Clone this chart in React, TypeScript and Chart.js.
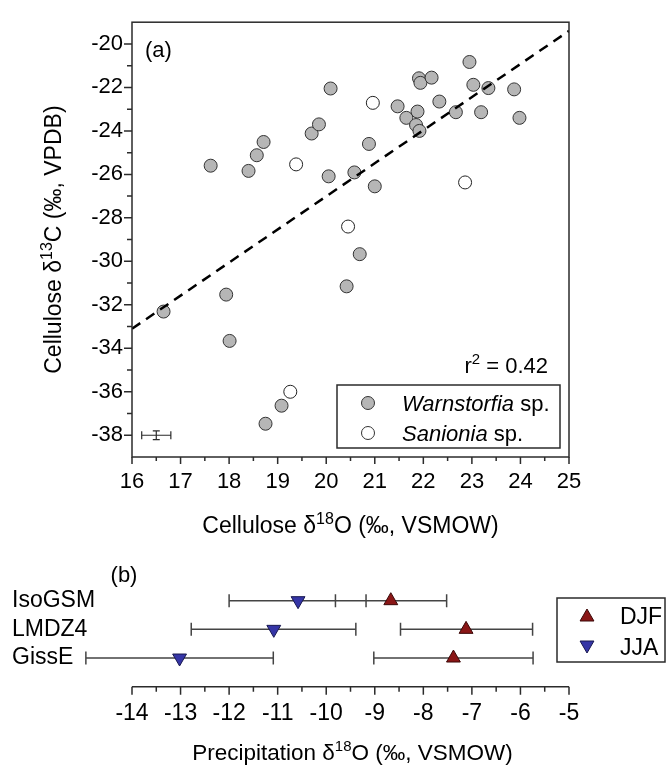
import React, { useEffect, useRef } from 'react';
import { Chart, registerables } from 'chart.js';

Chart.register(...registerables);

const FONT = '"Liberation Sans", Arial, Helvetica, sans-serif';
const AXIS = '#2b2b2b';

// ---------- Panel (a): cellulose d18O vs d13C ----------
const warnX = [17.62, 18.40, 18.57, 18.71, 19.70, 19.85, 20.09, 20.05, 17.94, 21.47, 21.65, 21.88, 21.85, 21.92, 21.91, 21.94, 22.17, 22.33, 22.67, 22.95, 23.03, 23.34, 23.19, 23.87, 23.98, 20.88, 20.58, 21.00, 20.69, 20.42, 16.65, 18.01, 19.08, 18.75];
const warnY = [-25.60, -25.84, -25.12, -24.51, -24.12, -23.70, -22.05, -26.09, -31.53, -22.87, -23.40, -23.11, -23.73, -24.00, -21.58, -21.79, -21.55, -22.65, -23.14, -20.83, -21.88, -22.03, -23.14, -22.09, -23.40, -24.60, -25.91, -26.55, -29.67, -31.15, -32.31, -33.66, -36.64, -37.47];
const sanX = [19.38, 20.96, 22.86, 20.45, 19.26];
const sanY = [-25.54, -22.71, -26.37, -28.40, -36.00];
const fitX = [16, 25];
const fitY = [-33.1, -19.4];
const xTicksA = [16, 17, 18, 19, 20, 21, 22, 23, 24, 25];
const xMinorA = [16.5, 17.5, 18.5, 19.5, 20.5, 21.5, 22.5, 23.5, 24.5];
const yTicksA = [-38, -36, -34, -32, -30, -28, -26, -24, -22, -20];
const yMinorA = [-37, -35, -33, -31, -29, -27, -25, -23, -21];
const errX = 16.5;
const errY = -38;
const errHalfX = 0.3;
const errHalfY = 0.2;
const r2Value = '0.42';

// ---------- Panel (b): precipitation d18O by model ----------
const models = ['IsoGSM', 'LMDZ4', 'GissE'];
const djfMean = [-8.67, -7.12, -7.38];
const djfLow = [-9.81, -8.47, -9.02];
const djfHigh = [-7.52, -5.75, -5.74];
const jjaMean = [-10.58, -11.08, -13.02];
const jjaLow = [-12.0, -12.78, -14.95];
const jjaHigh = [-9.18, -9.39, -11.09];
const xTicksB = [-14, -13, -12, -11, -10, -9, -8, -7, -6, -5];
const xMinorB = [-13.5, -12.5, -11.5, -10.5, -9.5, -8.5, -7.5, -6.5, -5.5];

const DJF_FILL = '#8a1616';
const DJF_EDGE = '#3a0808';
const JJA_FILL = '#3535a6';
const JJA_EDGE = '#181850';

type Part = { t: string; sup?: boolean; italic?: boolean };

function richWidth(ctx: CanvasRenderingContext2D, parts: Part[], size: number) {
  let w = 0;
  for (const p of parts) {
    ctx.font = `${p.italic ? 'italic ' : ''}${p.sup ? Math.round(size * 0.68) : size}px ${FONT}`;
    w += ctx.measureText(p.t).width;
  }
  return w;
}

function drawRich(ctx: CanvasRenderingContext2D, parts: Part[], x: number, y: number, size: number, align: 'left' | 'center' | 'right') {
  const total = richWidth(ctx, parts, size);
  let cx = align === 'left' ? x : align === 'center' ? x - total / 2 : x - total;
  ctx.textAlign = 'left';
  ctx.textBaseline = 'alphabetic';
  ctx.fillStyle = '#000';
  for (const p of parts) {
    ctx.font = `${p.italic ? 'italic ' : ''}${p.sup ? Math.round(size * 0.68) : size}px ${FONT}`;
    ctx.fillText(p.t, cx, p.sup ? y - size * 0.4 : y);
    cx += ctx.measureText(p.t).width;
  }
}

function triangle(ctx: CanvasRenderingContext2D, x: number, y: number, r: number, down: boolean, fill: string, edge: string) {
  const s = down ? -1 : 1;
  ctx.beginPath();
  ctx.moveTo(x, y - s * r);
  ctx.lineTo(x + r * Math.sin((2 * Math.PI) / 3), y + s * r / 2);
  ctx.lineTo(x - r * Math.sin((2 * Math.PI) / 3), y + s * r / 2);
  ctx.closePath();
  ctx.fillStyle = fill;
  ctx.fill();
  ctx.strokeStyle = edge;
  ctx.lineWidth = 1;
  ctx.stroke();
}

const panelAPlugin = {
  id: 'panelADecor',
  afterDraw(chart: any) {
    const { ctx, chartArea: a, scales } = chart;
    const xs = scales.x;
    const ys = scales.y;
    ctx.save();
    // frame
    ctx.strokeStyle = AXIS;
    ctx.lineWidth = 1.5;
    ctx.strokeRect(a.left, a.top, a.right - a.left, a.bottom - a.top);
    // ticks
    ctx.beginPath();
    for (const v of xTicksA) {
      const p = xs.getPixelForValue(v);
      ctx.moveTo(p, a.bottom);
      ctx.lineTo(p, a.bottom + 7);
    }
    for (const v of xMinorA) {
      const p = xs.getPixelForValue(v);
      ctx.moveTo(p, a.bottom);
      ctx.lineTo(p, a.bottom + 4);
    }
    for (const v of yTicksA) {
      const p = ys.getPixelForValue(v);
      ctx.moveTo(a.left, p);
      ctx.lineTo(a.left - 8, p);
    }
    for (const v of yMinorA) {
      const p = ys.getPixelForValue(v);
      ctx.moveTo(a.left, p);
      ctx.lineTo(a.left - 5, p);
    }
    ctx.stroke();

    // analytical error bar
    const ex = xs.getPixelForValue(errX);
    const ey = ys.getPixelForValue(errY);
    const ex0 = xs.getPixelForValue(errX - errHalfX);
    const ex1 = xs.getPixelForValue(errX + errHalfX);
    const ey0 = ys.getPixelForValue(errY - errHalfY);
    const ey1 = ys.getPixelForValue(errY + errHalfY);
    ctx.lineWidth = 1.2;
    ctx.beginPath();
    ctx.moveTo(ex0, ey); ctx.lineTo(ex1, ey);
    ctx.moveTo(ex0, ey - 4); ctx.lineTo(ex0, ey + 4);
    ctx.moveTo(ex1, ey - 4); ctx.lineTo(ex1, ey + 4);
    ctx.moveTo(ex, ey0); ctx.lineTo(ex, ey1);
    ctx.moveTo(ex - 3.5, ey0); ctx.lineTo(ex + 3.5, ey0);
    ctx.moveTo(ex - 3.5, ey1); ctx.lineTo(ex + 3.5, ey1);
    ctx.stroke();

    // panel label
    ctx.fillStyle = '#000';
    ctx.font = `22px ${FONT}`;
    ctx.textAlign = 'left';
    ctx.textBaseline = 'alphabetic';
    ctx.fillText('(a)', a.left + 13, a.top + 35);

    // r2
    drawRich(ctx, [{ t: 'r' }, { t: '2', sup: true }, { t: ' = ' + r2Value }], a.right - 21, 373, 22, 'right');

    // legend
    const lx0 = 337, lx1 = 560, ly0 = 385, ly1 = 448;
    ctx.strokeStyle = AXIS;
    ctx.lineWidth = 1.5;
    ctx.strokeRect(lx0, ly0, lx1 - lx0, ly1 - ly0);
    const rows: { fill: string; name: string; y: number }[] = [
      { fill: '#b6b6b6', name: 'Warnstorfia', y: 403 },
      { fill: '#ffffff', name: 'Sanionia', y: 433 },
    ];
    for (const r of rows) {
      ctx.beginPath();
      ctx.arc(368, r.y, 6.5, 0, Math.PI * 2);
      ctx.fillStyle = r.fill;
      ctx.fill();
      ctx.strokeStyle = '#333';
      ctx.lineWidth = 1;
      ctx.stroke();
      drawRich(ctx, [{ t: r.name, italic: true }, { t: ' sp.' }], 402, r.y + 8, 22, 'left');
    }

    // axis titles
    const cxT = (a.left + a.right) / 2;
    drawRich(ctx, [{ t: 'Cellulose \u03b4' }, { t: '18', sup: true }, { t: 'O (\u2030, VSMOW)' }], cxT, 533, 23, 'center');
    ctx.save();
    ctx.translate(61, (a.top + a.bottom) / 2);
    ctx.rotate(-Math.PI / 2);
    drawRich(ctx, [{ t: 'Cellulose \u03b4' }, { t: '13', sup: true }, { t: 'C (\u2030, VPDB)' }], 0, 0, 23, 'center');
    ctx.restore();
    ctx.restore();
  },
};

const panelBPlugin = {
  id: 'panelBDecor',
  beforeDatasetsDraw(chart: any) {
    const { ctx, scales } = chart;
    const xs = scales.x;
    const ys = scales.y;
    ctx.save();
    ctx.strokeStyle = '#444';
    ctx.lineWidth = 1.5;
    models.forEach((_, i) => {
      const y = ys.getPixelForValue(models.length - i);
      const bars = [
        [jjaLow[i], jjaHigh[i]],
        [djfLow[i], djfHigh[i]],
      ];
      ctx.beginPath();
      for (const [lo, hi] of bars) {
        const p0 = xs.getPixelForValue(lo);
        const p1 = xs.getPixelForValue(hi);
        ctx.moveTo(p0, y); ctx.lineTo(p1, y);
        ctx.moveTo(p0, y - 6.5); ctx.lineTo(p0, y + 6.5);
        ctx.moveTo(p1, y - 6.5); ctx.lineTo(p1, y + 6.5);
      }
      ctx.stroke();
    });
    ctx.restore();
  },
  afterDraw(chart: any) {
    const { ctx, chartArea: a, scales } = chart;
    const xs = scales.x;
    ctx.save();
    ctx.strokeStyle = AXIS;
    ctx.lineWidth = 1.5;
    ctx.beginPath();
    ctx.moveTo(a.left, a.bottom);
    ctx.lineTo(a.right, a.bottom);
    for (const v of xTicksB) {
      const p = xs.getPixelForValue(v);
      ctx.moveTo(p, a.bottom);
      ctx.lineTo(p, a.bottom + 8);
    }
    for (const v of xMinorB) {
      const p = xs.getPixelForValue(v);
      ctx.moveTo(p, a.bottom);
      ctx.lineTo(p, a.bottom + 5);
    }
    ctx.stroke();

    // panel label
    ctx.fillStyle = '#000';
    ctx.font = `22px ${FONT}`;
    ctx.textAlign = 'center';
    ctx.textBaseline = 'alphabetic';
    ctx.fillText('(b)', 124, 37);

    // legend
    const lx0 = 557, lx1 = 665, ly0 = 53, ly1 = 117;
    ctx.strokeStyle = AXIS;
    ctx.lineWidth = 1.5;
    ctx.strokeRect(lx0, ly0, lx1 - lx0, ly1 - ly0);
    triangle(ctx, 587, 72, 8, false, DJF_FILL, DJF_EDGE);
    triangle(ctx, 587, 100, 8, true, JJA_FILL, JJA_EDGE);
    ctx.fillStyle = '#000';
    ctx.font = `23px ${FONT}`;
    ctx.textAlign = 'left';
    ctx.fillText('DJF', 620, 79);
    ctx.fillText('JJA', 620, 110);

    // axis title
    drawRich(ctx, [{ t: 'Precipitation \u03b4' }, { t: '18', sup: true }, { t: 'O (\u2030, VSMOW)' }], (a.left + a.right) / 2 + 2, 215, 22.5, 'center');
    ctx.restore();
  },
};

const tickFontA = { size: 22, family: FONT, lineHeight: 1.2 };
const tickFontB = { size: 23, family: FONT, lineHeight: 1.2 };

export default function App() {
  const refA = useRef<HTMLCanvasElement>(null);
  const refB = useRef<HTMLCanvasElement>(null);

  useEffect(() => {
    const chartA = new Chart(refA.current as HTMLCanvasElement, {
      type: 'scatter',
      data: {
        datasets: [
          {
            type: 'line',
            label: 'fit',
            data: fitX.map((x, i) => ({ x, y: fitY[i] })),
            borderColor: '#000',
            borderWidth: 2.5,
            borderDash: [10, 7],
            pointRadius: 0,
            fill: false,
            order: 0,
          } as any,
          {
            label: 'Warnstorfia sp.',
            data: warnX.map((x, i) => ({ x, y: warnY[i] })),
            pointRadius: 6.5,
            pointBackgroundColor: '#b6b6b6',
            pointBorderColor: '#333',
            pointBorderWidth: 1,
            order: 1,
          },
          {
            label: 'Sanionia sp.',
            data: sanX.map((x, i) => ({ x, y: sanY[i] })),
            pointRadius: 6.5,
            pointBackgroundColor: '#ffffff',
            pointBorderColor: '#222',
            pointBorderWidth: 1,
            order: 1,
          },
        ],
      },
      options: {
        animation: false,
        responsive: false,
        maintainAspectRatio: false,
        devicePixelRatio: 1,
        events: [],
        layout: { padding: { top: 13, right: 98, left: 0, bottom: 0 } },
        plugins: { legend: { display: false }, tooltip: { enabled: false } },
        scales: {
          x: {
            type: 'linear',
            min: 16,
            max: 25,
            grid: { display: false, drawTicks: false },
            border: { display: false },
            afterBuildTicks: (s: any) => { s.ticks = xTicksA.map((v) => ({ value: v })); },
            afterFit: (s: any) => { s.height = 88; },
            ticks: { font: tickFontA, color: '#000', padding: 12, maxRotation: 0, autoSkip: false },
          },
          y: {
            type: 'linear',
            min: -39,
            max: -19,
            grid: { display: false, drawTicks: false },
            border: { display: false },
            afterBuildTicks: (s: any) => { s.ticks = yTicksA.map((v) => ({ value: v })); },
            afterFit: (s: any) => { s.width = 132; },
            ticks: { font: tickFontA, color: '#000', padding: 9, autoSkip: false },
          },
        },
      },
      plugins: [panelAPlugin],
    } as any);

    const chartB = new Chart(refB.current as HTMLCanvasElement, {
      type: 'scatter',
      data: {
        datasets: [
          {
            label: 'DJF',
            data: models.map((_, i) => ({ x: djfMean[i], y: models.length - i })),
            pointStyle: 'triangle',
            pointRadius: 8,
            pointBackgroundColor: DJF_FILL,
            pointBorderColor: DJF_EDGE,
            pointBorderWidth: 1,
            clip: false,
          },
          {
            label: 'JJA',
            data: models.map((_, i) => ({ x: jjaMean[i], y: models.length - i })),
            pointStyle: 'triangle',
            pointRotation: 180,
            pointRadius: 8,
            pointBackgroundColor: JJA_FILL,
            pointBorderColor: JJA_EDGE,
            pointBorderWidth: 1,
            clip: false,
          },
        ],
      },
      options: {
        animation: false,
        responsive: false,
        maintainAspectRatio: false,
        devicePixelRatio: 1,
        events: [],
        layout: { padding: { top: 27, right: 98, left: 12, bottom: 0 } },
        plugins: { legend: { display: false }, tooltip: { enabled: false } },
        scales: {
          x: {
            type: 'linear',
            min: -14,
            max: -5,
            grid: { display: false, drawTicks: false },
            border: { display: false },
            afterBuildTicks: (s: any) => { s.ticks = xTicksB.map((v) => ({ value: v })); },
            afterFit: (s: any) => { s.height = 78.3; },
            ticks: { font: tickFontB, color: '#000', padding: 13.5, maxRotation: 0, autoSkip: false },
          },
          y: {
            type: 'linear',
            min: 0,
            max: 4,
            grid: { display: false, drawTicks: false },
            border: { display: false },
            afterBuildTicks: (s: any) => { s.ticks = models.map((_, i) => ({ value: models.length - i })); },
            afterFit: (s: any) => { s.width = 120; },
            ticks: {
              font: tickFontB,
              color: '#000',
              padding: 0,
              crossAlign: 'far',
              autoSkip: false,
              callback: (v: any) => models[models.length - Number(v)] ?? '',
            },
          },
        },
      },
      plugins: [panelBPlugin],
    } as any);

    return () => {
      chartA.destroy();
      chartB.destroy();
    };
  }, []);

  return (
    <div style={{ position: 'absolute', left: 0, top: 0, width: 667, height: 765, background: '#fff' }}>
      <canvas ref={refA} width={667} height={545} style={{ position: 'absolute', left: 0, top: 0, width: 667, height: 545 }} />
      <canvas ref={refB} width={667} height={220} style={{ position: 'absolute', left: 0, top: 545, width: 667, height: 220 }} />
    </div>
  );
}
